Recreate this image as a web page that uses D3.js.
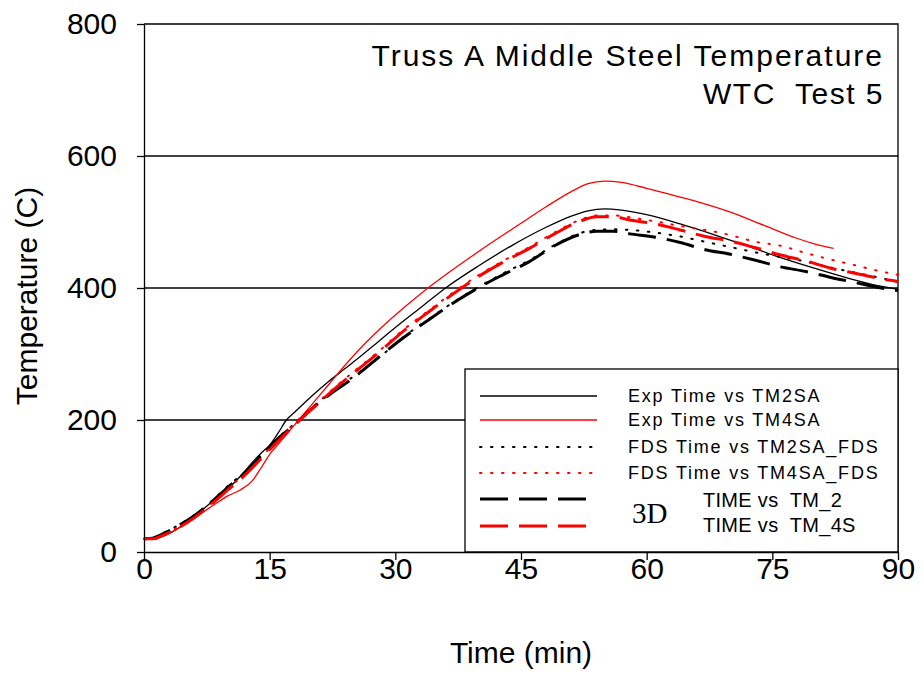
<!DOCTYPE html>
<html>
<head>
<meta charset="utf-8">
<script src="https://cdn.jsdelivr.net/npm/d3@7"></script>
<style>
  body { margin: 0; background: #fff; }
  text { font-family: "Liberation Sans", Arial, sans-serif; fill: #000; }
</style>
</head>
<body>
<svg id="chart"></svg>
<script>
// ---- data ----
const xTicks = [0, 15, 30, 45, 60, 75, 90];
const yTicks = [0, 200, 400, 600, 800];
const gridValues = [200, 400, 600];

// experiment, thermocouple TM2SA
const expTime2 = [0, 1.5, 3, 5, 7, 9, 10, 11, 12, 13, 14, 15, 16, 17, 18, 20, 22, 24, 26, 28, 30, 33, 36, 40, 44, 48, 51, 53, 55, 57, 60, 64, 68, 72, 76, 80, 84, 87, 90];
const expTM2SA = [20, 21, 28, 44, 64, 86, 96, 108, 122, 137, 150, 162, 180, 200, 212, 236, 258, 278, 298, 319, 340, 370, 400, 434, 465, 492, 509, 517, 520, 518, 511, 497, 481, 464, 446, 430, 415, 405, 398];

// experiment, thermocouple TM4SA
const expTime4 = [0, 1.3, 2, 4, 5, 7, 9, 10, 11.5, 13, 14, 15, 16, 17, 18, 20, 22, 24, 26, 28, 30, 33, 36, 39, 42, 45, 48, 51, 53, 55, 57, 60, 63, 66, 70, 74, 78, 80, 82.3];
const expTM4SA = [19, 19, 23, 35, 43, 60, 77, 85, 94, 109, 128, 148, 163, 178, 193, 223, 253, 283, 311, 336, 359, 391, 420, 447, 473, 498, 523, 546, 558, 562, 560, 551, 541, 531, 515, 495, 475, 467, 460];

// FDS and 3D model results (common time grid)
const simTime = [0, 1, 2, 4, 6, 8, 10, 12, 14, 16, 18, 20, 22, 25, 28, 31, 34, 37, 40, 43, 46, 49, 52, 54, 56, 58, 61, 64, 67, 70, 73, 76, 79, 82, 85, 88, 90];
const fdsTM2SA = [20, 21, 27, 40, 56, 76, 100, 121, 147, 173, 195, 218, 238, 266, 294, 326, 353, 379, 402, 423, 442, 465, 483, 488, 489, 488, 484, 478, 470, 462, 454, 447, 440, 431, 423, 415, 409];
const fdsTM4SA = [20, 20, 25, 37, 53, 73, 96, 118, 144, 170, 195, 218, 241, 273, 304, 337, 366, 394, 420, 442, 462, 484, 503, 510, 510, 507, 501, 494, 488, 480, 470, 464, 453, 443, 434, 425, 420];
const tm2 = [20, 21, 26, 39, 55, 75, 98, 119, 146, 172, 193, 217, 237, 264, 295, 325, 352, 378, 401, 421, 440, 464, 481, 486, 486, 482, 477, 469, 458, 451, 442, 432, 425, 416, 408, 400, 396];
const tm4s = [20, 20, 24, 36, 52, 72, 94, 116, 142, 168, 193, 216, 239, 271, 302, 335, 364, 392, 418, 440, 460, 482, 501, 508, 508, 503, 497, 488, 478, 471, 461, 450, 441, 430, 422, 414, 410];

const legendLabels = [
  "Exp Time vs TM2SA",
  "Exp Time vs TM4SA",
  "FDS Time vs TM2SA_FDS",
  "FDS Time vs TM4SA_FDS",
  "TIME vs  TM_2",
  "TIME vs  TM_4S"
];

// ---- build series ----
function zip(t, v) { return t.map((d, i) => ({ t: d, v: v[i] })); }

const series = [
  { values: zip(expTime2, expTM2SA), color: "#000", width: 1.3, dash: null },
  { values: zip(expTime4, expTM4SA), color: "#ff0000", width: 1.3, dash: null },
  { values: zip(simTime, fdsTM2SA), color: "#000", width: 2, dash: "1.5,9.5" },
  { values: zip(simTime, fdsTM4SA), color: "#ff0000", width: 2, dash: "1.5,9.5" },
  { values: zip(simTime, tm2), color: "#000", width: 3, dash: "28,11" },
  { values: zip(simTime, tm4s), color: "#ff0000", width: 3, dash: "28,11" }
];

// ---- layout ----
const svgWidth = 922, svgHeight = 673;
const margin = { top: 24, right: 24, bottom: 121, left: 144 };
const width = svgWidth - margin.left - margin.right;
const height = svgHeight - margin.top - margin.bottom;

const svg = d3.select("#chart")
  .attr("width", svgWidth)
  .attr("height", svgHeight);

const g = svg.append("g")
  .attr("transform", `translate(${margin.left},${margin.top})`);

const xScale = d3.scaleLinear().domain([0, 90]).range([0, width]);
const yScale = d3.scaleLinear().domain([0, 800]).range([height, 0]);

// grid lines
g.selectAll(".grid")
  .data(gridValues)
  .enter()
  .append("line")
  .attr("x1", 0)
  .attr("x2", width)
  .attr("y1", d => yScale(d))
  .attr("y2", d => yScale(d))
  .attr("stroke", "#000")
  .attr("stroke-width", 1.3);

// frame (top and right)
g.append("path")
  .attr("d", `M0,${yScale(800)}H${width}V${height}`)
  .attr("fill", "none")
  .attr("stroke", "#000")
  .attr("stroke-width", 1.3);

// curves
const line = d3.line()
  .x(d => xScale(d.t))
  .y(d => yScale(d.v))
  .curve(d3.curveMonotoneX);

// legend box
const legend = g.append("g");
legend.append("rect")
  .attr("x", 321)
  .attr("y", 345)
  .attr("width", width - 321)
  .attr("height", height - 345)
  .attr("fill", "#fff")
  .attr("stroke", "#000")
  .attr("stroke-width", 1.3);

g.selectAll(".series")
  .data(series)
  .enter()
  .append("path")
  .attr("d", d => line(d.values))
  .attr("fill", "none")
  .attr("stroke", d => d.color)
  .attr("stroke-width", d => d.width)
  .attr("stroke-dasharray", d => d.dash)
  .attr("stroke-linecap", d => d.dash && d.width < 3 ? "round" : "butt");

// legend entries
const rowY = [372, 396, 423, 449, 475, 502];
const lineEnd = [453, 453, 448, 448, 442, 442];
legend.selectAll(".legline")
  .data(series)
  .enter()
  .append("line")
  .attr("x1", 336)
  .attr("x2", (d, i) => lineEnd[i])
  .attr("y1", (d, i) => rowY[i])
  .attr("y2", (d, i) => rowY[i])
  .attr("stroke", d => d.color)
  .attr("stroke-width", d => d.width)
  .attr("stroke-dasharray", d => d.dash)
  .attr("stroke-linecap", d => d.dash && d.width < 3 ? "round" : "butt");

legend.selectAll(".legtext")
  .data(legendLabels.slice(0, 4))
  .enter()
  .append("text")
  .attr("x", 484)
  .attr("y", (d, i) => rowY[i] + 6)
  .style("font-size", "18px")
  .style("letter-spacing", "1.8px")
  .text(d => d);

legend.selectAll(".legtext3d")
  .data(legendLabels.slice(4))
  .enter()
  .append("text")
  .attr("x", 559)
  .attr("y", (d, i) => [483, 508][i])
  .style("font-size", "20px")
  .style("letter-spacing", "0.3px")
  .attr("xml:space", "preserve")
  .text(d => d);

legend.append("text")
  .attr("x", 488)
  .attr("y", 499)
  .style("font-family", "'Liberation Serif', 'Times New Roman', serif")
  .style("font-size", "29px")
  .text("3D");

// axes
const xAxis = g.append("g")
  .attr("transform", `translate(0,${height})`)
  .call(d3.axisBottom(xScale).tickValues(xTicks).tickSize(8).tickSizeOuter(0).tickPadding(-2));

const yAxis = g.append("g")
  .call(d3.axisLeft(yScale).tickValues(yTicks).tickSize(7).tickSizeOuter(0).tickPadding(20));

[xAxis, yAxis].forEach(a => {
  a.selectAll("path, line").attr("stroke", "#000").attr("stroke-width", 1.3);
  a.selectAll("text")
    .style("font-family", "'Liberation Sans', Arial, sans-serif")
    .style("font-size", "30px")
    .attr("fill", "#000");
});

// title
g.append("text")
  .attr("x", 740)
  .attr("y", 42)
  .attr("text-anchor", "end")
  .style("font-size", "30px")
  .style("letter-spacing", "2px")
  .text("Truss A Middle Steel Temperature");

g.append("text")
  .attr("x", 740)
  .attr("y", 80)
  .attr("text-anchor", "end")
  .style("font-size", "30px")
  .style("letter-spacing", "1.5px")
  .attr("xml:space", "preserve")
  .text("WTC  Test 5");

// axis labels
svg.append("text")
  .attr("x", margin.left + width / 2)
  .attr("y", 663)
  .attr("text-anchor", "middle")
  .style("font-size", "30px")
  .text("Time (min)");

svg.append("text")
  .attr("transform", "rotate(-90)")
  .attr("x", -296)
  .attr("y", 37)
  .attr("text-anchor", "middle")
  .style("font-size", "30px")
  .text("Temperature (C)");
</script>
</body>
</html>
